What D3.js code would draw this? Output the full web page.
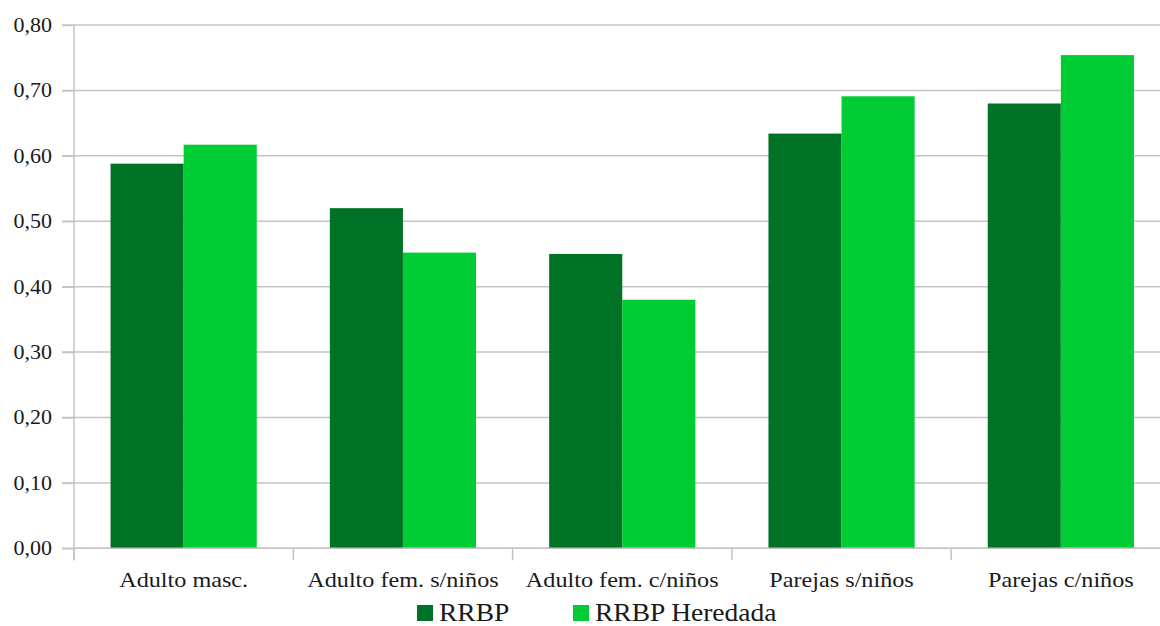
<!DOCTYPE html>
<html>
<head>
<meta charset="utf-8">
<script src="https://cdn.jsdelivr.net/npm/d3@7"></script>
<style>
  body { margin: 0; background: #fff; }
  svg { display: block; }
  .grid line { stroke: #c4c4c4; stroke-width: 1.5px; }
  .axis path, .axis line { stroke: #c4c4c4; stroke-width: 1.5px; }
</style>
</head>
<body>
<div id="chart"></div>
<script>
// categories and series
var categories = ["Adulto masc.", "Adulto fem. s/niños", "Adulto fem. c/niños", "Parejas s/niños", "Parejas c/niños"];
var seriesNames = ["RRBP", "RRBP Heredada"];
var rrbp = [0.588, 0.520, 0.450, 0.634, 0.680];
var rrbpHeredada = [0.617, 0.452, 0.380, 0.691, 0.754];
var yTicks = [0, 0.1, 0.2, 0.3, 0.4, 0.5, 0.6, 0.7, 0.8];
var colors = ["#007226", "#00cc33"];

var width = 1160, height = 626;
var plotLeft = 74, plotTop = 25, plotBottom = 548.3;
var bandW = 219.3;
var stretch = 1.1; // text in the picture is a bit wider than the font
var serif = "'Liberation Serif', 'Times New Roman', Times, 'DejaVu Serif', serif";

var svg = d3.select("#chart").append("svg")
    .attr("width", width)
    .attr("height", height);

var esLocale = d3.formatLocale({decimal: ",", thousands: ".", grouping: [3], currency: ["", " €"]});
var fmt = esLocale.format(".2f");

var y = d3.scaleLinear()
    .domain([0, 0.8])
    .range([plotBottom, plotTop]);

var x = d3.scaleBand()
    .domain(categories)
    .range([plotLeft, plotLeft + bandW * categories.length])
    .paddingInner(0)
    .paddingOuter(0);

var xs = d3.scaleBand()
    .domain(seriesNames)
    .range([0, x.bandwidth()])
    .paddingInner(0)
    .paddingOuter(0.5);

// gridlines
svg.append("g")
    .attr("class", "grid")
    .selectAll("line")
    .data(yTicks)
    .enter().append("line")
    .attr("x1", plotLeft - 12)
    .attr("x2", width)
    .attr("y1", function(d) { return y(d); })
    .attr("y2", function(d) { return y(d); });

// bars
var data = categories.map(function(c, i) {
    return {cat: c, values: [rrbp[i], rrbpHeredada[i]]};
});

var groups = svg.append("g")
    .selectAll("g")
    .data(data)
    .enter().append("g")
    .attr("transform", function(d) { return "translate(" + x(d.cat) + ",0)"; });

groups.selectAll("rect")
    .data(function(d) { return d.values.map(function(v, j) { return {name: seriesNames[j], v: v, j: j}; }); })
    .enter().append("rect")
    .attr("x", function(d) { return xs(d.name); })
    .attr("width", xs.bandwidth())
    .attr("y", function(d) { return y(d.v); })
    .attr("height", function(d) { return y(0) - y(d.v); })
    .attr("fill", function(d) { return colors[d.j]; });

// y axis
var yAxis = svg.append("g")
    .attr("class", "axis")
    .attr("font-family", serif)
    .attr("transform", "translate(" + plotLeft + ",0)")
    .call(d3.axisLeft(y).tickValues(yTicks).tickFormat(fmt).tickSize(12).tickPadding(10));
yAxis.attr("font-family", serif);
yAxis.select(".domain").remove();
yAxis.append("line")
    .attr("x1", 0).attr("x2", 0)
    .attr("y1", plotTop).attr("y2", plotBottom + 12);
yAxis.selectAll(".tick text")
    .attr("x", 0)
    .attr("transform", "translate(-22,0) scale(" + stretch + ",1)")
    .style("font-family", serif)
    .style("font-size", "20px")
    .attr("fill", "#1a1a1a");

// x axis
var xAxis = svg.append("g")
    .attr("class", "axis")
    .attr("transform", "translate(0," + plotBottom + ")")
    .call(d3.axisBottom(x).tickSize(0).tickPadding(23));
xAxis.attr("font-family", serif);
xAxis.select(".domain").remove();
xAxis.append("line")
    .attr("x1", plotLeft).attr("x2", width)
    .attr("y1", 0).attr("y2", 0);
xAxis.selectAll(".sep")
    .data(categories)
    .enter().append("line")
    .attr("class", "sep")
    .attr("x1", function(d) { return x(d); })
    .attr("x2", function(d) { return x(d); })
    .attr("y1", 0).attr("y2", 12);
xAxis.selectAll(".tick text")
    .attr("transform", "scale(" + stretch + ",1)")
    .style("font-family", serif)
    .style("font-size", "22px")
    .attr("fill", "#1a1a1a");

// legend
var legendX = [417, 573];
var legend = svg.append("g")
    .selectAll("g")
    .data(seriesNames)
    .enter().append("g")
    .attr("transform", function(d, i) { return "translate(" + legendX[i] + ",605)"; });
legend.append("rect")
    .attr("width", 16).attr("height", 16)
    .attr("fill", function(d, i) { return colors[i]; });
legend.append("text")
    .attr("transform", "translate(22,16) scale(" + stretch + ",1)")
    .style("font-family", serif)
    .style("font-size", "25px")
    .attr("fill", "#1a1a1a")
    .text(function(d) { return d; });
</script>
</body>
</html>
